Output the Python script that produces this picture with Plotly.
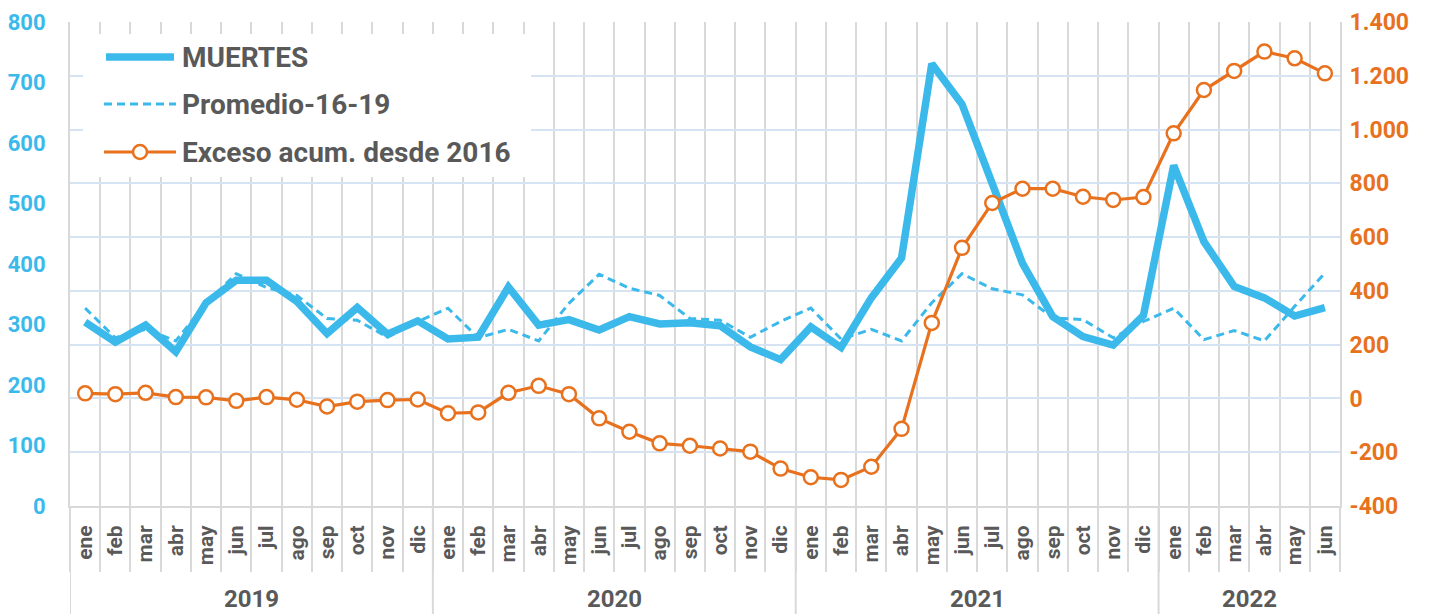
import plotly.graph_objects as go

# ---------------- data ----------------
years = ["2019", "2020", "2021", "2022"]
months_per_year = [12, 12, 12, 6]
month_labels = ["ene", "feb", "mar", "abr", "may", "jun", "jul", "ago", "sep", "oct", "nov", "dic",
                "ene", "feb", "mar", "abr", "may", "jun", "jul", "ago", "sep", "oct", "nov", "dic",
                "ene", "feb", "mar", "abr", "may", "jun", "jul", "ago", "sep", "oct", "nov", "dic",
                "ene", "feb", "mar", "abr", "may", "jun"]

muertes = [304, 271, 299, 255, 336, 373, 373, 338, 285, 328, 284, 306,
           276, 279, 362, 299, 308, 291, 313, 301, 303, 298, 263, 242,
           296, 262, 344, 410, 731, 664, 533, 401, 313, 280, 266, 315,
           563, 437, 363, 344, 314, 328]

promedio_16_19 = [327, 278, 292, 273, 335, 384, 361, 348, 310, 307, 279, 305,
                  327, 278, 292, 273, 335, 383, 360, 348, 310, 307, 279, 305,
                  327, 276, 292, 273, 336, 384, 359, 349, 311, 308, 278, 305,
                  327, 275, 290, 273, 330, 385]

exceso_acum = [19, 16, 21, 5, 4, -9, 5, -5, -30, -12, -6, -4,
               -55, -52, 21, 47, 16, -74, -124, -167, -176, -186, -198, -261,
               -293, -303, -254, -113, 281, 560, 727, 780, 780, 750, 738, 749,
               986, 1147, 1218, 1290, 1265, 1209]

left_ticks = [0, 100, 200, 300, 400, 500, 600, 700, 800]
right_ticks = [-400, -200, 0, 200, 400, 600, 800, 1000, 1200, 1400]
right_ticktext = ["-400", "-200", "0", "200", "400", "600", "800", "1.000", "1.200", "1.400"]

series_names = ["MUERTES", "Promedio-16-19", "Exceso acum. desde 2016"]

# ---------------- style ----------------
BLUE = "#3BB9EB"
ORANGE = "#E8711E"
GRAY_TXT = "#595959"
VGRID = "#D9D9D9"
HGRID = "#D5E3F2"
FONT = "Roboto"

W, H = 1440, 614
ML, MR, MT, MB = 70, 100, 22, 108
PW, PH = W - ML - MR, H - MT - MB

N = len(month_labels)
XR = [-0.5, N - 0.5]
YR = [0, 800]


def px_x(px):
    return (px - ML) / PW


def px_y(py):
    return (H - MB - py) / PH


def dx(px):  # pixel -> x data (for legend box only)
    return XR[0] + px_x(px) * (XR[1] - XR[0])


def dy(py):
    return YR[0] + px_y(py) * (YR[1] - YR[0])


x = list(range(N))

fig = go.Figure()

fig.add_trace(go.Scatter(
    x=x, y=promedio_16_19, name=series_names[1], mode="lines",
    line=dict(color=BLUE, width=3, dash="8px,5px"), showlegend=False))

fig.add_trace(go.Scatter(
    x=x, y=muertes, name=series_names[0], mode="lines",
    line=dict(color=BLUE, width=7.5), showlegend=False))

fig.add_trace(go.Scatter(
    x=x, y=exceso_acum, name=series_names[2], mode="lines+markers", yaxis="y2",
    line=dict(color=ORANGE, width=3.2),
    marker=dict(symbol="circle", size=14, color="white", line=dict(color=ORANGE, width=2.5)),
    showlegend=False))

# year separators and labels
shapes = []
annotations = []
start = 0
for yr, n in zip(years, months_per_year):
    shapes.append(dict(type="line", xref="x", yref="paper", x0=start - 0.5, x1=start - 0.5,
                       y0=0, y1=-MB / PH, line=dict(color=VGRID, width=2), layer="above"))
    annotations.append(dict(text=yr, xref="x", yref="paper", x=start + (n - 1) / 2,
                            y=px_y(599), showarrow=False, xanchor="center", yanchor="middle",
                            font=dict(family=FONT, size=24, color=GRAY_TXT, weight="bold")))
    start += n

# custom legend
shapes.append(dict(type="rect", xref="x", yref="y",
                   x0=dx(83), x1=dx(531), y0=dy(177), y1=dy(34),
                   fillcolor="white", line=dict(width=0), layer="between"))
leg_rows = [57, 104, 152]
shapes.append(dict(type="line", xref="paper", yref="paper",
                   x0=px_x(106), x1=px_x(174), y0=px_y(leg_rows[0]), y1=px_y(leg_rows[0]),
                   line=dict(color=BLUE, width=7.5), layer="above"))
shapes.append(dict(type="line", xref="paper", yref="paper",
                   x0=px_x(104), x1=px_x(176), y0=px_y(leg_rows[1]), y1=px_y(leg_rows[1]),
                   line=dict(color=BLUE, width=3, dash="8px,5px"), layer="above"))
shapes.append(dict(type="line", xref="paper", yref="paper",
                   x0=px_x(104), x1=px_x(176), y0=px_y(leg_rows[2]), y1=px_y(leg_rows[2]),
                   line=dict(color=ORANGE, width=3.2), layer="above"))
r = 7
shapes.append(dict(type="circle", xref="paper", yref="paper",
                   x0=px_x(140 - r), x1=px_x(140 + r), y0=px_y(leg_rows[2] + r), y1=px_y(leg_rows[2] - r),
                   fillcolor="white", line=dict(color=ORANGE, width=2.5), layer="above"))
for name, row in zip(series_names, leg_rows):
    annotations.append(dict(text=name, xref="paper", yref="paper", x=px_x(180), y=px_y(row),
                            showarrow=False, xanchor="left", yanchor="middle",
                            font=dict(family=FONT, size=28, color=GRAY_TXT, weight="bold")))

fig.update_layout(
    width=W, height=H,
    margin=dict(l=ML, r=MR, t=MT, b=MB, autoexpand=False),
    paper_bgcolor="white", plot_bgcolor="white",
    showlegend=False,
    shapes=shapes, annotations=annotations,
    xaxis=dict(
        range=XR, automargin=False,
        tickmode="array", tickvals=x, ticktext=month_labels, tickangle=-90,
        ticks="", showgrid=False, zeroline=False,
        tickfont=dict(family=FONT, size=21, color=GRAY_TXT, weight="bold"),
        ticklabelstandoff=9,
        showline=True, linecolor=VGRID, linewidth=2,
        minor=dict(tickvals=[i - 0.5 for i in range(N + 1)], ticks="outside", ticklen=64,
                   tickcolor=VGRID, tickwidth=2, showgrid=True, gridcolor=VGRID, gridwidth=2),
    ),
    yaxis=dict(
        range=YR, automargin=False, tickmode="array", tickvals=left_ticks,
        showgrid=False, zeroline=False,
        showline=True, linecolor=VGRID, linewidth=2,
        tickfont=dict(family=FONT, size=22, color=BLUE, weight="bold"),
        ticklabelstandoff=18,
    ),
    yaxis2=dict(
        range=[-400, 1400], automargin=False, overlaying="y", side="right",
        tickmode="array", tickvals=right_ticks, ticktext=right_ticktext,
        showgrid=True, gridcolor=HGRID, gridwidth=2, zeroline=False,
        showline=True, linecolor=VGRID, linewidth=2,
        tickfont=dict(family=FONT, size=23, color=ORANGE, weight="bold"),
        ticklabelstandoff=3,
    ),
)

fig.write_html("out.html", config={"displayModeBar": False},
               post_script="document.body.style.margin='0';document.body.style.overflow='hidden';")
